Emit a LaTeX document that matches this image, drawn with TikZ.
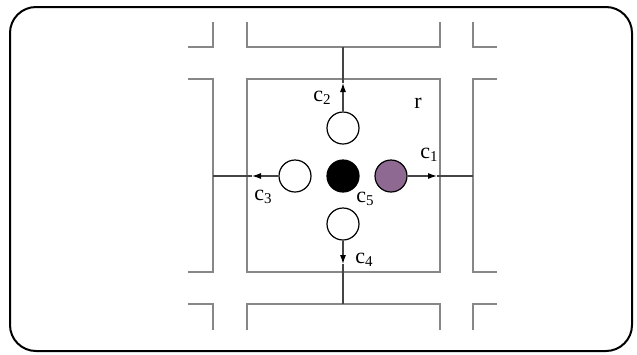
\documentclass[tikz,border=0pt]{standalone}
\usepackage{fontspec}
\setmainfont{Liberation Serif}
\usetikzlibrary{arrows.meta}
\definecolor{wallgray}{RGB}{135,135,135}
\definecolor{cellpurple}{RGB}{142,106,146}
\newcommand{\sbs}[1]{\raisebox{-0.35ex}{\fontsize{15}{15}\selectfont #1}}
\begin{document}
\begin{tikzpicture}[x=1pt,y=-1pt,
  wall/.style={draw=wallgray,line width=1.2pt},
  link/.style={draw=wallgray!50!black,line width=1.1pt},
  arr/.style={link,-{Latex[length=9pt,width=6pt,color=black]}},
  cell/.style={circle,draw=black,line width=1.2pt,minimum size=32pt,inner sep=0pt},
  lab/.style={font=\fontsize{22}{22}\selectfont,inner sep=0pt}]
\useasboundingbox (0,0) rectangle (637,354);
\draw[line width=2pt,rounded corners=26pt] (10,7) rectangle (632,351);
% walls
\draw[wall] (188,47) -- (213,47) -- (213,22);
\draw[wall] (247,22) -- (247,47) -- (440,47) -- (440,22);
\draw[wall] (473,22) -- (473,47) -- (497,47);
\draw[wall] (188,79) -- (213,79) -- (213,272) -- (188,272);
\draw[wall] (247,79) rectangle (440,272);
\draw[wall] (497,79) -- (473,79) -- (473,272) -- (497,272);
\draw[wall] (188,304) -- (213,304) -- (213,330);
\draw[wall] (247,330) -- (247,304) -- (440,304) -- (440,330);
\draw[wall] (473,330) -- (473,304) -- (497,304);
% cells
\node[cell,fill=white] (n2) at (343,128) {};
\node[cell,fill=white] (n3) at (295,176) {};
\node[cell,fill=black] (n5) at (343,176) {};
\node[cell,fill=cellpurple] (n1) at (391,176) {};
\node[cell,fill=white] (n4) at (343,224) {};
% connector ends
\coordinate (w2) at (343,47);
\coordinate (a2) at (343,83);
\coordinate (w3) at (213,176);
\coordinate (a3) at (252,176);
\coordinate (w1) at (473,176);
\coordinate (a1) at (437,176);
\coordinate (w4) at (343,304);
\coordinate (a4) at (343,264);
\draw[arr] (n2.north) -- (a2); \draw[link] (a2) -- (w2);
\draw[arr] (n3.west) -- (a3); \draw[link] (a3) -- (w3);
\draw[arr] (n1.east) -- (a1); \draw[link] (a1) -- (w1);
\draw[arr] (n4.south) -- (a4); \draw[link] (a4) -- (w4);
% labels
\node[lab] (l2) at (322,98) {c\sbs{2}};
\node[lab] (l1) at (429,155) {c\sbs{1}};
\node[lab] (l3) at (263,197) {c\sbs{3}};
\node[lab] (l5) at (365,199) {c\sbs{5}};
\node[lab] (l4) at (364,260) {c\sbs{4}};
\node[lab] (lr) at (418,103) {r};
\end{tikzpicture}
\end{document}
